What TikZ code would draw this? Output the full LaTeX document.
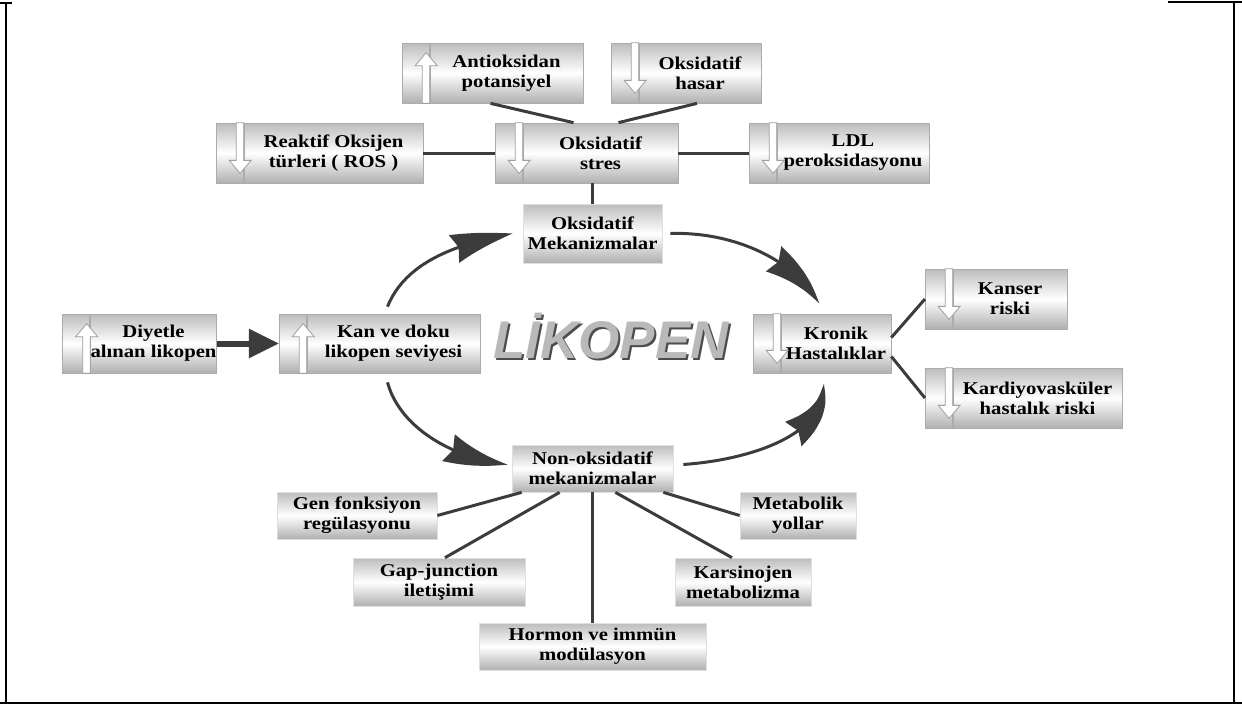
\documentclass[tikz,border=0pt]{standalone}
\usepackage{fontspec}
\setmainfont{Liberation Serif}[FakeStretch=1.15]
\newfontfamily\logofont{Liberation Sans}
\usetikzlibrary{arrows.meta,positioning,bending}
\definecolor{Ink}{HTML}{3C3C3C}

% hollow up / down marks on the left strip of a box
\newcommand\hollowup[1]{%
  \draw[hollow] (#1.south east) -- ([yshift=-23pt]#1.north east) -- ++(7.5,0)
    -- ([xshift=-3.5pt,yshift=-10pt]#1.north east) -- ([xshift=-14.5pt,yshift=-23pt]#1.north east)
    -- ([xshift=-7.5pt,yshift=-23pt]#1.north east) -- ([xshift=-7.5pt]#1.south east) -- cycle;}
\newcommand\hollowdown[1]{%
  \draw[hollow] (#1.north east) -- ([yshift=23pt]#1.south east) -- ++(7.5,0)
    -- ([xshift=-3.5pt,yshift=10pt]#1.south east) -- ([xshift=-14.5pt,yshift=23pt]#1.south east)
    -- ([xshift=-7.5pt,yshift=23pt]#1.south east) -- ([xshift=-7.5pt]#1.north east) -- cycle;}

\begin{document}
\begin{tikzpicture}[x=1pt,y=-1pt,
    box/.style={top color=gray!52,bottom color=gray!62,middle color=white,
      draw=gray!65,line width=0.7pt,minimum height=60pt,inner xsep=0pt,inner ysep=1pt,
      align=center,font=\fontsize{18}{20}\selectfont\bfseries},
    plain/.style={box,draw=gray!25},
    strip/.style={box,minimum width=27pt,left=0pt of #1},
    hollow/.style={fill=white,draw=gray!75,line width=0.8pt,line join=miter},
    link/.style={line width=3pt,draw=Ink},
    bigarr/.style={line width=3pt,draw=Ink,-{Stealth[length=62pt,width=29pt,inset=5pt,bend]}},
    fat/.style={line width=6pt,draw=Ink,-{Triangle[length=30pt,width=28pt]}},
    frame/.style={line width=1.6pt,black}
  ]
  \useasboundingbox (0,0) rectangle (1242,715);

  % frame
  \draw[frame] (0,3) -- (12,3);
  \draw[frame] (6,3) -- (6,703);
  \draw[frame] (1168,2) -- (1242,2);
  \draw[frame] (1234,2) -- (1234,703);
  \draw[frame] (0,703) -- (1242,703);

  % oxidative branch
  \node[box,minimum width=153pt] (antiox) at (506.5,73) {Antioksidan\\potansiyel};
  \node[strip=antiox] (antiox-s) {};
  \node[box,minimum width=122pt] (hasar) at (700,73) {Oksidatif\\hasar};
  \node[strip=hasar] (hasar-s) {};
  \node[box,minimum width=179pt] (ros) at (333.5,153) {Reaktif Oksijen\\türleri ( ROS )};
  \node[strip=ros] (ros-s) {};
  \node[box,minimum width=155pt] (stres) at (600.5,153) {Oksidatif\\stres};
  \node[strip=stres] (stres-s) {};
  \node[box,minimum width=152pt] (ldl) at (853,153) {LDL\\peroksidasyonu};
  \node[strip=ldl] (ldl-s) {};
  \node[plain,minimum width=139pt,minimum height=59pt] (oksmek) at (592.5,233.5) {Oksidatif\\Mekanizmalar};

  % middle row
  \node[box,minimum width=121pt,minimum height=59pt] (diyet) at (153.5,343.5) {Diyetle\\alınan likopen};
  \node[strip=diyet,minimum height=59pt] (diyet-s) {};
  \node[box,minimum width=173pt,minimum height=59pt] (kan) at (393.5,343.5) {Kan ve doku\\likopen seviyesi};
  \node[strip=kan,minimum height=59pt] (kan-s) {};
  \node[box,minimum width=110pt,minimum height=59pt] (kronik) at (836,343.5) {Kronik\\Hastalıklar};
  \node[strip=kronik,minimum height=59pt] (kronik-s) {};
  \node[box,minimum width=114pt] (kanser) at (1010,299) {Kanser\\riski};
  \node[strip=kanser] (kanser-s) {};
  \node[box,minimum width=169pt] (kardiyo) at (1037.5,398) {Kardiyovasküler\\hastalık riski};
  \node[strip=kardiyo] (kardiyo-s) {};

  \node[anchor=base,text=black!70,font=\logofont\bfseries\itshape\fontsize{53}{60}\selectfont]
    (logo-shadow) at (613,360) {LİKOPEN};
  \node[anchor=base,text=gray!55,font=\logofont\bfseries\itshape\fontsize{53}{60}\selectfont]
    (logo) at (611,358) {LİKOPEN};

  % non-oxidative branch
  \node[plain,minimum width=161pt,minimum height=47pt] (nonox) at (592.5,468.5) {Non-oksidatif\\mekanizmalar};
  \node[plain,minimum width=160pt,minimum height=47pt] (gen) at (357,515.5) {Gen fonksiyon\\regülasyonu};
  \node[plain,minimum width=116pt,minimum height=47pt] (metab) at (798,515.5) {Metabolik\\yollar};
  \node[plain,minimum width=172pt,minimum height=48pt] (gap) at (439,582) {Gap-junction\\iletişimi};
  \node[plain,minimum width=136pt,minimum height=48pt] (kars) at (743,582) {Karsinojen\\metabolizma};
  \node[plain,minimum width=227pt,minimum height=47pt] (hormon) at (592.5,646.5) {Hormon ve immün\\modülasyon};

  % up / down marks
  \hollowup{antiox-s}
  \hollowdown{hasar-s}
  \hollowdown{ros-s}
  \hollowdown{stres-s}
  \hollowdown{ldl-s}
  \hollowup{diyet-s}
  \hollowup{kan-s}
  \hollowdown{kronik-s}
  \hollowdown{kanser-s}
  \hollowdown{kardiyo-s}

  % links
  \draw[link] (ros.east) -- (stres-s.west);
  \draw[link] (stres.east) -- (ldl-s.west);
  \draw[link] ([xshift=-16pt]antiox.south) -- ([xshift=-27pt]stres.north);
  \draw[link] ([xshift=-3pt]hasar.south) -- ([xshift=18pt]stres.north);
  \draw[link] (oksmek.north) -- (oksmek.north |- stres.south);
  \draw[link] ([yshift=6pt]kronik.east) -- (kanser-s.west);
  \draw[link] ([yshift=-13pt]kronik.east) -- (kardiyo-s.west);
  \draw[link] (gen.east) -- ([xshift=10pt]nonox.south west);
  \draw[link] ([xshift=6pt]gap.north) -- ([xshift=48pt]nonox.south west);
  \draw[link] (hormon.north) -- (nonox.south);
  \draw[link] ([xshift=-11pt]kars.north) -- ([xshift=-58pt]nonox.south east);
  \draw[link] (metab.west) -- ([xshift=-10pt]nonox.south east);

  % cycle
  \draw[fat] (diyet.east) -- (kan-s.west);
  \draw[bigarr] ([xshift=-6pt,yshift=7pt]kan.north) .. controls +(18,-45) and +(-55,10) .. ([xshift=-10pt]oksmek.west);
  \draw[bigarr] ([xshift=8pt]oksmek.east) .. controls +(62,-2) and +(-25,-45) .. ([xshift=-17pt,yshift=10pt]kronik.north);
  \draw[bigarr] ([xshift=-6pt,yshift=-9pt]kan.south) .. controls +(12,45) and +(-55,-6) .. ([xshift=-4pt,yshift=4pt]nonox.west);
  \draw[bigarr] ([xshift=10pt,yshift=4pt]nonox.east) .. controls +(70,-5) and +(5,50) .. ([xshift=-13pt,yshift=-10pt]kronik.south);
\end{tikzpicture}
\end{document}
